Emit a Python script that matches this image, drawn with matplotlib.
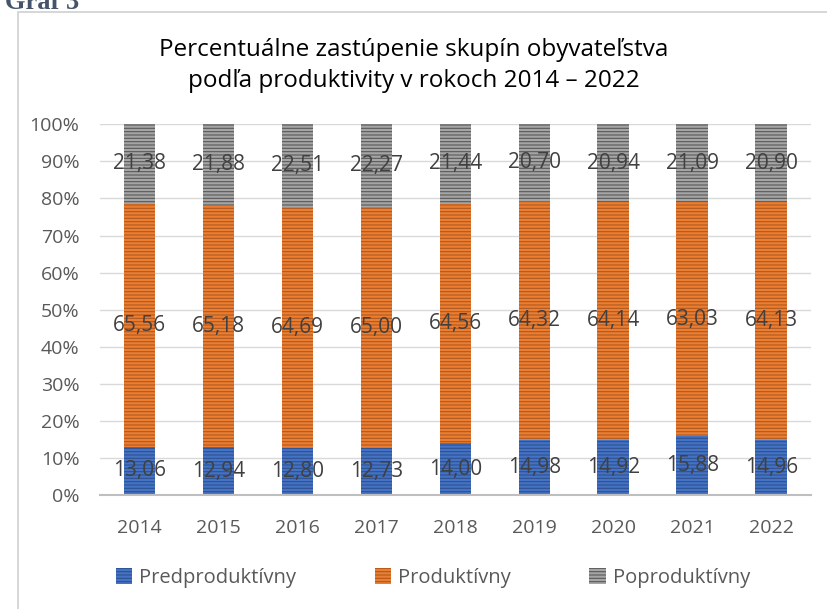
import matplotlib.pyplot as plt
import numpy as np
from matplotlib.patches import Rectangle

plt.rcParams['font.family'] = ['Open Sans', 'DejaVu Sans']
plt.rcParams['hatch.linewidth'] = 0.8

# data (percent of population by productivity group)
years = ['2014', '2015', '2016', '2017', '2018', '2019', '2020', '2021', '2022']
pre = [13.06, 12.94, 12.80, 12.73, 14.00, 14.98, 14.92, 15.88, 14.96]
prod = [65.56, 65.18, 64.69, 65.00, 64.56, 64.32, 64.14, 63.03, 64.13]
post = [21.38, 21.88, 22.51, 22.27, 21.44, 20.70, 20.94, 21.09, 20.90]
series_names = ['Predproduktívny', 'Produktívny', 'Poproduktívny']

colors = ['#4472C4', '#ED7D31', '#A5A5A5']
hatch_cols = ['#2F528F', '#AE5A21', '#595959']

fig = plt.figure(figsize=(8.28, 6.09), dpi=100)
ax = fig.add_axes([0.121, 0.187, 0.858, 0.609])

# outer chart frame (only top/left visible)
fig.patches.append(Rectangle((18 / 828, -0.1), 1.2, 1 - 12 / 609 + 0.1,
                             transform=fig.transFigure, fill=False,
                             edgecolor='#d0d0d0', linewidth=1.2))
fig.text(5 / 828, 1 - 9 / 609, 'Graf 3', family='Liberation Serif',
         fontweight='bold', fontsize=19, color='#44546A', va='baseline')

x = np.arange(len(years))
bottom = np.zeros(len(years))
handles = []
for vals, c, hc, name in zip([pre, prod, post], colors, hatch_cols, series_names):
    v = np.array(vals) / 100
    b = ax.bar(x, v, 0.4, bottom=bottom, color=c, edgecolor=hc,
               hatch='-----', linewidth=0, label=name, zorder=3)
    handles.append(b)
    for xi, bi, vi, raw in zip(x, bottom, v, vals):
        ax.text(xi, bi + vi / 2, f'{raw:.2f}'.replace('.', ','), ha='center',
                va='center', fontsize=15, color='#404040', zorder=4)
    bottom += v

ax.set_xlim(-0.5, len(years) - 0.5)
ax.set_ylim(0, 1)
ax.set_yticks(np.arange(0, 1.01, 0.1))
ax.set_yticklabels([f'{int(round(t * 100))}%' for t in np.arange(0, 1.01, 0.1)])
ax.set_xticks(x)
ax.set_xticklabels(years)
ax.tick_params(length=0, labelsize=14, colors='#595959', pad=17)
ax.tick_params(axis='y', pad=15)
ax.grid(axis='y', color='#d9d9d9', linewidth=1, zorder=0)
for s in ['top', 'right', 'left']:
    ax.spines[s].set_visible(False)
ax.spines['bottom'].set_color('#bfbfbf')
ax.spines['bottom'].set_linewidth(1.5)
ax.spines['bottom'].set_zorder(5)

fig.text(0.5, 1 - 50 / 609, 'Percentuálne zastúpenie skupín obyvateľstva',
         ha='center', va='center', fontsize=17.5, color='#000000')
fig.text(0.5, 1 - 81 / 609, 'podľa produktivity v rokoch 2014 – 2022',
         ha='center', va='center', fontsize=17.5, color='#000000')

fig.legend(handles=handles, labels=series_names, loc='center',
           bbox_to_anchor=(0.523, 1 - 578 / 609), ncol=3, frameon=False,
           fontsize=14.5, handlelength=0.8, handleheight=0.8,
           columnspacing=3.9, handletextpad=0.35, labelcolor='#595959')

fig.savefig('out.png', dpi=100)
